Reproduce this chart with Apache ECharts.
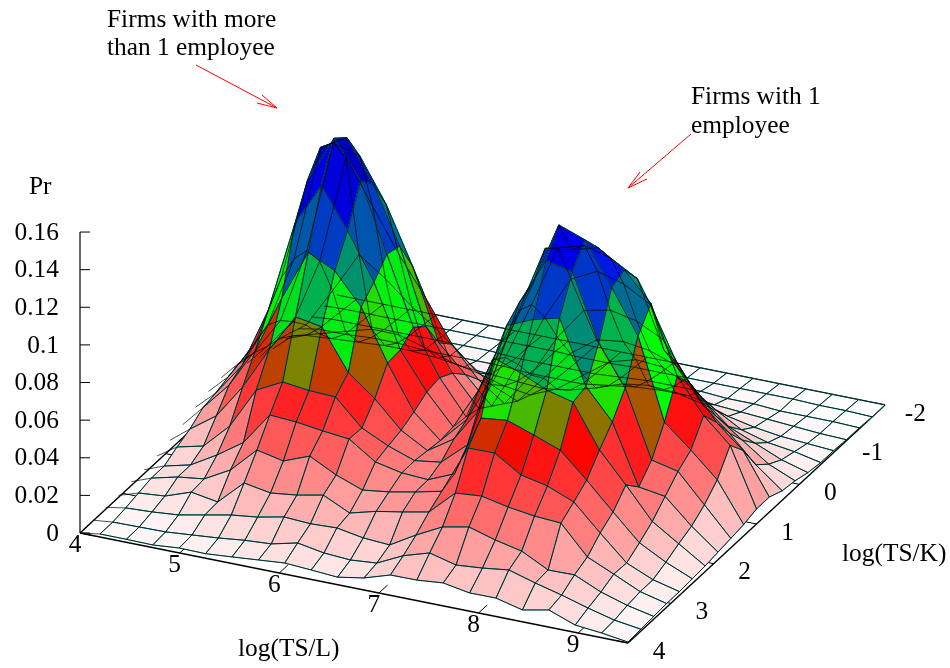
<!DOCTYPE html>
<html><head><meta charset="utf-8">
<style>html,body{margin:0;padding:0;background:#fff}#c{width:950px;height:668px}</style>
<script src="https://cdn.jsdelivr.net/npm/echarts@6/dist/echarts.min.js"></script>
</head><body><div id="c"></div>
<script>
// log(TS/L) grid: the first column only carries wire stubs (no filled cell)
const xValues = [4,4.2,4.465,4.73,4.995,5.26,5.525,5.79,6.055,6.32,6.585,6.85,7.115,7.38,7.645,7.91,8.175,8.44,8.705,8.97,9.235,9.5];
// log(TS/K) grid, front (4) to back (-2)
const yValues = [4,3.7,3.4,3.1,2.8,2.5,2.2,1.9,1.6,1.3,1,0.7,0.4,0.1,-0.2,-0.5,-0.8,-1.1,-1.4,-1.7,-2];
// Pr in thousandths, one row per yValues entry, one column per xValues entry
const pr0 = [0,1.6,1.6,1.4,2.6,2.4,3.5,4.7,5.9,5,4,6.4,10.8,10.9,12.2,9.7,9.8,6.3,9.1,3.9,2.5,0.5];
const pr1 = [.5,1.6,1.8,2,3.2,4.4,6,6.9,10.2,7.7,6.8,8,14.7,19,15.4,16.6,18.4,14.3,10.7,6.6,3,1];
const pr2 = [1,2.8,3.5,4.7,7.5,10.3,12,14.9,14.1,14.7,12.2,11.3,19.4,26.5,29.3,25.2,22.1,14.9,15.1,8.8,4.5,1.5];
const pr3 = [1,4.4,5.6,10.5,8.1,21,18.5,20.2,23,16.3,20,22.5,25.3,38.2,39.4,36.4,34.4,33.5,18.3,12,5.5,2];
const pr4 = [2,6,9.4,11.2,18.8,32.2,29.2,34.6,27.4,22.2,24,26.8,30,55.8,56,47.1,44.1,38.4,24.7,11.6,5.5,2];
const pr5 = [2,6.1,9.5,17.6,27,44.5,43.6,41.7,40.2,30.8,27.8,27,33,65.4,67,62,56.8,43.7,29.6,16,8.5,2.5];
const pr6 = [3,9.9,13.2,26.7,48.6,55.7,54,53.4,39.7,33,28,30,42,91,86,79.6,76,53.4,37.6,21,12,3];
const pr7 = [5,13.1,22.9,41.1,63.6,84,81.5,60,49,35,27,36,55,102,108,111.6,78,62,30.2,28,15,4];
const pr8 = [7,18,33,54.5,85,112,105,88.6,61.6,38.4,26,40,66,108,133,129.7,95,73.7,38.2,35,20,5];
const pr9 = [10,19.5,37,69.4,118,141,120,95.5,62.2,42.7,27,50,78,111,145.6,140.4,118,95,52,40,27,6];
const pr10 = [12,22,42,80,135,160,140,104,68,44,26,59,88,124,126,130,121,106,70,52,39,8];
const pr11 = [13,24,46,84,146,154,132,102,62,40,24,54,85,118,122,118,110,75,60,42,30,8];
const pr12 = [12,22,42,82,142,138,115,85,47,33,19,44,72,95,102,98,90,62,42,30,16,5];
const pr13 = [8,19,35,70,128,105,82,62,40,24,14,32,55,72,75,72,65,45,30,20,10,4];
const pr14 = [5,17,27,48,70,60,48,38,26,15,9,24,40,50,52,50,45,30,18,12,6,2];
const pr15 = [3,12,16,20,24,24,20,15,12,8,6,12,22,32,36,35,28,18,10,6,4,1];
const pr16 = [2,6,7,8,9,9,8,6,5,4,3,5,9,14,16,15,12,8,5,3,2,1];
const pr17 = [1,3,3,4,4,3,3,3,3,2,2,2,4,6,7,7,5,4,3,2,1,.5];
const pr18 = [1,2,2,2,2,2,2,2,1,1,1,1,2,3,3,3,2,2,1,1,1,.5];
const pr19 = [.5,1,1,1,1,1,1,1,1,1,.5,.5,1,1,1,1,1,1,1,.5,.5,0];
const pr20 = [0,0,0,0,0,0,0,0,0,0,0,0,0,0,0,0,0,0,0,0,0,0];
const prRows = [pr0,pr1,pr2,pr3,pr4,pr5,pr6,pr7,pr8,pr9,pr10,pr11,pr12,pr13,pr14,pr15,pr16,pr17,pr18,pr19,pr20];

const xTicks = [4,5,6,7,8,9];
const yTicks = [-2,-1,0,1,2,3,4];
const zTicks = ['0','0.02','0.04','0.06','0.08','0.1','0.12','0.14','0.16'];

// palette: Pr value -> colour (gnuplot-style defined palette)
const paletteStops = [[0,[255,255,255]],[.057,[255,0,0]],[.08,[0,255,0]],[.132,[0,0,255]],[.16,[0,0,128]]];
function colorOf(z){
  for(let i=1;i<paletteStops.length;i++){
    const a=paletteStops[i-1],b=paletteStops[i];
    if(z<=b[0]){const t=Math.max(0,(z-a[0])/(b[0]-a[0]));
      const c=a[1].map((v,n)=>Math.round(v+(b[1][n]-v)*t));return 'rgb('+c.join(',')+')';}
  }
  return 'rgb(0,0,128)';
}
// orthographic view of the box
const view={ox:80,oy:533,xx:99.64,xy:20,yx:42.83,yy:-39.67,zz:-1881};
function project(x,y,z){
  return [view.ox+(x-4)*view.xx+(4-y)*view.yx, view.oy+(x-4)*view.xy+(4-y)*view.yy+z*view.zz];
}
const nodeZ=(i,k)=>prRows[k][i]/1000;

// cells, painted back to front
const cells=[];
for(let k=0;k<yValues.length-1;k++)for(let i=1;i<xValues.length-1;i++){cells.push([i,k]);}
cells.sort((a,b)=>project(xValues[a[0]],yValues[a[1]],0)[1]-project(xValues[b[0]],yValues[b[1]],0)[1]);

// wire lines: rows (type 0) and columns (type 1)
const wires=[];
yValues.forEach((_,k)=>wires.push([0,k]));
for(let i=1;i<xValues.length;i++)wires.push([1,i]);

const serif='"Liberation Serif","Times New Roman",serif';
const FS=25.4;
function lineEl(api,p,q,color,w){
  const a=api.coord(p),b=api.coord(q);
  return {type:'line',shape:{x1:a[0],y1:a[1],x2:b[0],y2:b[1]},style:{stroke:color,lineWidth:w,fill:null}};
}
function textEl(api,p,s,align,dx,dy){
  const a=api.coord(p);
  return {type:'text',x:a[0]+dx,y:a[1]+dy,style:{text:s,fontFamily:serif,fontSize:FS,fill:'#000',align:align,verticalAlign:'middle'}};
}
const option={
  animation:false,
  grid:{left:0,right:0,top:0,bottom:0},
  xAxis:{type:'value',min:0,max:950,show:false},
  yAxis:{type:'value',min:0,max:668,inverse:true,show:false},
  series:[
   {type:'custom',silent:true,clip:false,coordinateSystem:'cartesian2d',
    data:[[0]],
    renderItem:(p,api)=>{
      // base plane frame + ticks + axis labels
      const ch=[];
      const B=(x,y)=>project(x,y,0);
      ch.push(lineEl(api,B(4,4),B(9.5,4),'#000',1.4));
      ch.push(lineEl(api,B(9.5,4),B(9.5,-2),'#000',1.4));
      ch.push(lineEl(api,B(9.5,-2),B(4,-2),'#000',1.4));
      ch.push(lineEl(api,B(4,-2),B(4,4),'#000',1.4));
      xTicks.forEach(t=>{
        ch.push(lineEl(api,B(t,4),B(t,3.8),'#000',1));
        ch.push(lineEl(api,B(t,-2),B(t,-1.8),'#000',1));
        ch.push(textEl(api,B(t,4),String(t),'center',-5,12));
      });
      yTicks.forEach(t=>{
        ch.push(lineEl(api,B(9.5,t),B(9.39,t),'#000',1));
        ch.push(lineEl(api,B(4,t),B(4.14,t),'#000',1));
        ch.push(textEl(api,B(9.5,t),String(t),t<0?'right':'center',t<0?41:31,9));
      });
      const z0=project(4,4,0),z1=project(4,4,.16);
      ch.push(lineEl(api,z0,z1,'#000',1.2));
      zTicks.forEach(t=>{
        const q=project(4,4,parseFloat(t));
        ch.push(lineEl(api,q,[q[0]+10,q[1]],'#000',1));
        ch.push(textEl(api,q,t,'right',-21,1));
      });
      return {type:'group',children:ch};
    }},
   {type:'custom',silent:true,clip:false,coordinateSystem:'cartesian2d',
    data:cells,encode:{x:0,y:1},
    renderItem:(p,api)=>{
      const i=api.value(0),k=api.value(1);
      const cn=[[i,k],[i+1,k],[i+1,k+1],[i,k+1]];
      let s=0;
      const pts=cn.map(c=>{const z=nodeZ(c[0],c[1]);s+=z;return api.coord(project(xValues[c[0]],yValues[c[1]],z));});
      return {type:'polygon',shape:{points:pts},style:{fill:colorOf(s/4),stroke:'#008a8a',lineWidth:1}};
    }},
   {type:'custom',silent:true,clip:false,coordinateSystem:'cartesian2d',
    data:wires,encode:{x:0,y:1},
    renderItem:(p,api)=>{
      const type=api.value(0),n=api.value(1);const pts=[];
      if(type===0){xValues.forEach((x,i)=>pts.push(api.coord(project(x,yValues[n],nodeZ(i,n)))));}
      else{yValues.forEach((y,k)=>pts.push(api.coord(project(xValues[n],y,nodeZ(n,k)))));}
      return {type:'polyline',shape:{points:pts},style:{stroke:'#000',lineWidth:.7,fill:null}};
    }}
  ],
  graphic:[
   ...[['Firms with more',107,21],['than 1 employee',107,49],['Firms with 1',691,98],['employee',691,127],['Pr',29,188],['log(TS/L)',238,650],['log(TS/K)',842,555]]
    .map(t=>({type:'text',left:t[1],top:t[2]-13,silent:true,z:10,style:{text:t[0],fontFamily:serif,fontSize:FS,fill:'#000'}})),
   {type:'polyline',silent:true,z:10,shape:{points:[[196,65],[277,108]]},style:{stroke:'#f00',lineWidth:1,fill:null}},
   {type:'polyline',silent:true,z:10,shape:{points:[[262,95],[277,108],[257,103]]},style:{stroke:'#f00',lineWidth:1,fill:null}},
   {type:'polyline',silent:true,z:10,shape:{points:[[691,134],[628,188]]},style:{stroke:'#f00',lineWidth:1,fill:null}},
   {type:'polyline',silent:true,z:10,shape:{points:[[640,172],[628,188],[647,179]]},style:{stroke:'#f00',lineWidth:1,fill:null}}
  ]
};
echarts.init(document.getElementById('c'),null,{renderer:'canvas'}).setOption(option);
</script></body></html>
